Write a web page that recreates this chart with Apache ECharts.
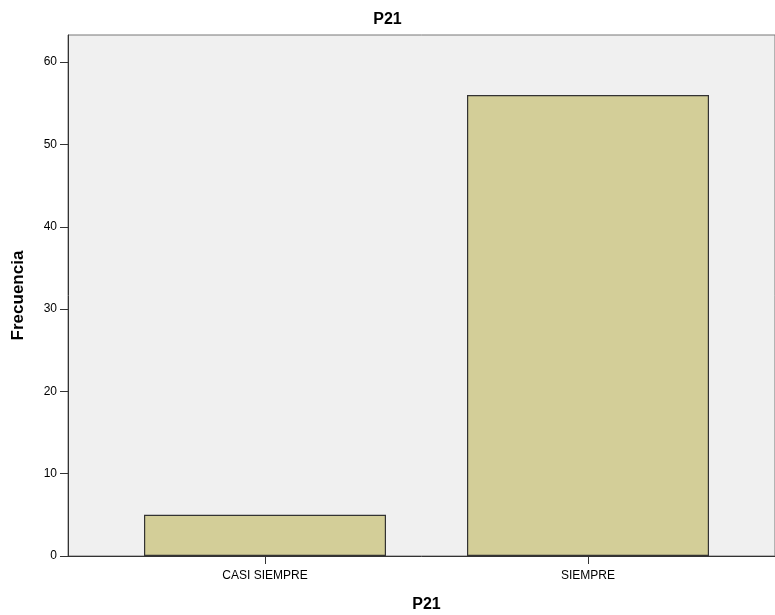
<!DOCTYPE html>
<html><head><meta charset="utf-8">
<script src="https://cdn.jsdelivr.net/npm/echarts@6/dist/echarts.min.js"></script>
<style>html,body{margin:0;padding:0;background:#fff}#c{width:775px;height:615px}</style>
</head><body><div id="c"></div>
<script>
const categories = ["CASI SIEMPRE", "SIEMPRE"];
const frecuencia = [5, 56];
const yTicks = [0, 10, 20, 30, 40, 50, 60];
const titleText = "P21";
const xTitle = "P21";
const yTitle = "Frecuencia";

const FONT = "Liberation Sans, Arial, sans-serif";
const chart = echarts.init(document.getElementById('c'), null, {renderer: 'canvas'});
const yMax = 63.3;
chart.setOption({
  animation: false,
  title: {text: titleText, left: 'center', top: 7,
    textStyle: {fontFamily: FONT, fontSize: 16, fontWeight: 'bold', color: '#000'}},
  grid: [
    {left: 68, right: 0, top: 35, bottom: 59, containLabel: false, outerBoundsMode: 'none',
     show: true, backgroundColor: '#f0f0f0', borderColor: '#777', borderWidth: 1},
    {left: 103.5, right: 25.5, top: 35, bottom: 59, containLabel: false, outerBoundsMode: 'none'}
  ],
  xAxis: [
    {gridIndex: 0, type: 'value', min: 0, max: 1, axisLine: {show: true, lineStyle: {color: '#333', width: 1}},
     axisTick: {show: false}, axisLabel: {show: false}, splitLine: {show: false},
     name: xTitle, nameLocation: 'middle', nameGap: 41,
     nameTextStyle: {fontFamily: FONT, fontSize: 16, fontWeight: 'bold', color: '#000', padding: [0, 0, 0, 10]}},
    {gridIndex: 1, type: 'category', data: categories,
     axisLine: {show: false},
     axisTick: {show: true, alignWithLabel: true, length: 8, lineStyle: {color: '#333'}},
     axisLabel: {fontFamily: FONT, fontSize: 12, color: '#000', margin: 14}}
  ],
  yAxis: [
    {gridIndex: 0, type: 'value', min: 0, max: yMax, interval: 10,
     axisLine: {show: true, lineStyle: {color: '#333', width: 1}},
     axisTick: {show: true, length: 8, lineStyle: {color: '#333'}, customValues: yTicks},
     axisLabel: {fontFamily: FONT, fontSize: 12, color: '#000', margin: 11, customValues: yTicks},
     splitLine: {show: false},
     name: yTitle, nameLocation: 'middle', nameGap: 41, nameRotate: 90,
     nameTextStyle: {fontFamily: FONT, fontSize: 17, fontWeight: 'bold', color: '#000'}},
    {gridIndex: 1, type: 'value', min: 0, max: yMax, show: false, splitLine: {show: false}}
  ],
  series: [{
    type: 'bar', xAxisIndex: 1, yAxisIndex: 1, data: frecuencia, barWidth: 242,
    itemStyle: {color: '#d3ce98', borderColor: '#333', borderWidth: 1.2}
  }]
});
</script></body></html>
